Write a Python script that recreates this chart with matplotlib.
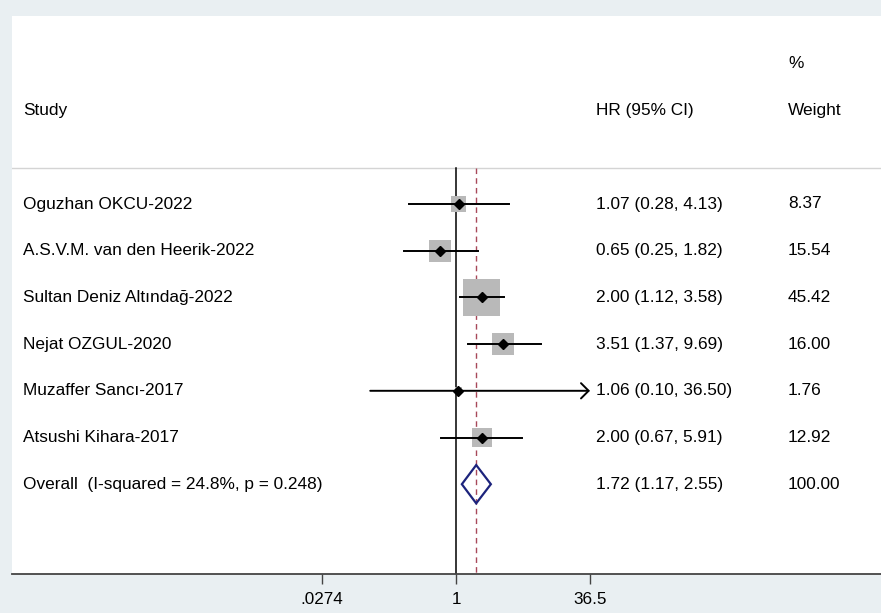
import numpy as np
import matplotlib
matplotlib.use("Agg")
import matplotlib.pyplot as plt
from matplotlib.patches import Polygon
import matplotlib.transforms as mtransforms

plt.rcParams['font.family'] = ['Liberation Sans', 'DejaVu Sans']

# ---------------- data ----------------
studies = ["Oguzhan OKCU-2022", "A.S.V.M. van den Heerik-2022",
           "Sultan Deniz Altındağ-2022", "Nejat OZGUL-2020",
           "Muzaffer Sancı-2017", "Atsushi Kihara-2017"]
hr = [1.07, 0.65, 2.00, 3.51, 1.06, 2.00]
ci_low = [0.28, 0.25, 1.12, 1.37, 0.10, 0.67]
ci_high = [4.13, 1.82, 3.58, 9.69, 36.50, 5.91]
weights = [8.37, 15.54, 45.42, 16.00, 1.76, 12.92]

overall_label = "Overall  (I-squared = 24.8%, p = 0.248)"
overall_hr = 1.72
overall_low = 1.17
overall_high = 2.55
overall_weight = 100.00

xtick_vals = [0.0274, 1, 36.5]
xtick_labels = [".0274", "1", "36.5"]
axis_max = 36.5

# ---------------- figure ----------------
W, H = 881, 613
fig = plt.figure(figsize=(W / 100, H / 100), dpi=100)
bg = '#e9eff2'
fig.patch.set_facecolor(bg)

# white plot region (pixel layout)
left_px, right_px, top_px, bottom_px = 12, 881, 16, 574
ax = fig.add_axes([left_px / W, (H - bottom_px) / H,
                   (right_px - left_px) / W, (bottom_px - top_px) / H])
ax.set_facecolor('white')

# x mapping: log scale, 1 at px 456, 37.25 px per ln-unit
x_one_px = 456
px_per_ln = 37.25
ax.set_xscale('log')
ax.set_xlim(np.exp((left_px - x_one_px) / px_per_ln),
            np.exp((right_px - x_one_px) / px_per_ln))

# y mapping in row units
row_px = 46.7
row0_px = 204
ax.set_ylim((bottom_px - row0_px) / row_px, (top_px - row0_px) / row_px)

for s in ['top', 'left', 'right']:
    ax.spines[s].set_visible(False)
ax.spines['bottom'].set_color('#444444')
ax.spines['bottom'].set_linewidth(1.3)
ax.set_yticks([])
ax.set_xticks(xtick_vals)
ax.set_xticklabels(xtick_labels, fontsize=12.3)
ax.xaxis.set_minor_locator(matplotlib.ticker.NullLocator())
ax.tick_params(axis='x', length=7, width=1, color='#444444', pad=6)

ymax_lines = (bottom_px - row0_px) / row_px
sep_y = (167.5 - row0_px) / row_px
ax.axhline(sep_y, color='#d4d4d4', lw=1)

# null line and overall dashed line
ax.plot([1, 1], [sep_y, ymax_lines], color='black', lw=1.1, zorder=2)
ax.plot([overall_hr, overall_hr], [sep_y, ymax_lines], color='#a8485a',
        lw=1.0, ls=(0, (4, 3)), zorder=2.5)

rows = np.arange(len(studies))
# weight boxes
ax.scatter(hr, rows, s=np.array(weights) * 15.6, marker='s', color='#b9b9b9',
           edgecolors='none', zorder=3)
# CI lines
for i in rows:
    hi = min(ci_high[i], axis_max)
    if ci_high[i] >= axis_max:
        ax.annotate('', xy=(hi, i), xytext=(ci_low[i], i),
                    arrowprops=dict(arrowstyle='->,head_length=0.55,head_width=0.55',
                                    color='black', lw=1.4, shrinkA=0, shrinkB=0,
                                    mutation_scale=10), zorder=5)
    else:
        ax.plot([ci_low[i], hi], [i, i], color='black', lw=1.4, zorder=5)
ax.plot(hr, rows, ls='none', marker='D', color='black', markersize=5, zorder=6)

# overall diamond
orow = len(studies)
h = 0.41
diamond = Polygon([(overall_low, orow), (overall_hr, orow - h),
                   (overall_high, orow), (overall_hr, orow + h)],
                  closed=True, fill=False, edgecolor='#1c237c', lw=1.6, zorder=5)
ax.add_patch(diamond)

# text columns
trans = mtransforms.blended_transform_factory(ax.transAxes, ax.transData)
x_study = (23 - left_px) / (right_px - left_px)
x_hr = (596 - left_px) / (right_px - left_px)
x_w = (788 - left_px) / (right_px - left_px)
fs = 12.4

ax.text(x_study, -2, "Study", transform=trans, va='center', ha='left', fontsize=fs)
ax.text(x_hr, -2, "HR (95% CI)", transform=trans, va='center', ha='left', fontsize=fs)
ax.text(x_w, -3, "%", transform=trans, va='center', ha='left', fontsize=fs)
ax.text(x_w, -2, "Weight", transform=trans, va='center', ha='left', fontsize=fs)

for i in rows:
    ax.text(x_study, i, studies[i], transform=trans, va='center', ha='left', fontsize=fs)
    ax.text(x_hr, i, f"{hr[i]:.2f} ({ci_low[i]:.2f}, {ci_high[i]:.2f})",
            transform=trans, va='center', ha='left', fontsize=fs)
    ax.text(x_w, i, f"{weights[i]:.2f}", transform=trans, va='center', ha='left', fontsize=fs)

ax.text(x_study, orow, overall_label, transform=trans, va='center', ha='left', fontsize=fs)
ax.text(x_hr, orow, f"{overall_hr:.2f} ({overall_low:.2f}, {overall_high:.2f})",
        transform=trans, va='center', ha='left', fontsize=fs)
ax.text(x_w, orow, f"{overall_weight:.2f}", transform=trans, va='center', ha='left', fontsize=fs)

fig.savefig('out.png', dpi=100, facecolor=bg)
